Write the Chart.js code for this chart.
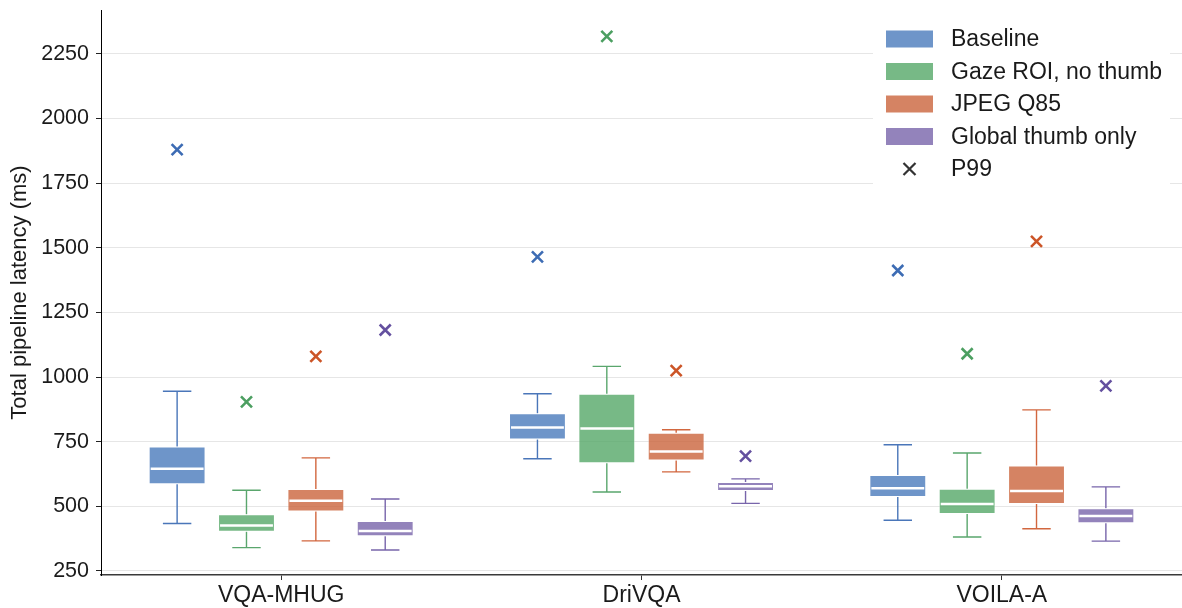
<!DOCTYPE html>
<html>
<head>
<meta charset="utf-8">
<script src="https://cdn.jsdelivr.net/npm/chart.js@4.4.1/dist/chart.umd.min.js"></script>
<style>
html, body { margin: 0; padding: 0; background: #fff; }
</style>
</head>
<body>
<canvas id="latency" width="1182" height="608"></canvas>
<script>
var categories = ['VQA-MHUG', 'DriVQA', 'VOILA-A'];
var seriesNames = ['Baseline', 'Gaze ROI, no thumb', 'JPEG Q85', 'Global thumb only'];

// one row per series, one value per dataset (VQA-MHUG, DriVQA, VOILA-A)
var whiskerLow  = [[433, 684, 446], [340, 555, 381], [366, 633, 413], [331, 511, 365]];
var q1          = [[585, 758, 536], [401, 666, 470], [480, 677, 509], [384, 559, 434]];
var median      = [[645, 805, 570], [426, 801, 509], [521, 712, 559], [404, 577, 462]];
var q3          = [[731, 860, 621], [469, 935, 568], [567, 784, 658], [443, 594, 492]];
var whiskerHigh = [[945, 935, 738], [562, 1041, 706], [687, 796, 873], [528, 606, 575]];
var p99         = [[1880, 1465, 1412], [904, 2318, 1090], [1080, 1025, 1525], [1182, 694, 966]];

var yTicks = [250, 500, 750, 1000, 1250, 1500, 1750, 2000, 2250];

var boxFill = ['rgba(74,122,187,0.8)', 'rgba(85,168,104,0.8)', 'rgba(202,100,60,0.8)', 'rgba(120,100,170,0.8)'];
var lineColor = ['#4a76b9', '#5aa66d', '#d2673f', '#7865ab'];
var markColor = ['#3d6cb4', '#4c9f61', '#cc5527', '#64509f'];
var fontFamily = '"Liberation Sans", Arial, sans-serif';

var datasets = seriesNames.map(function (name, i) {
    return {
        label: name,
        data: q1[i].map(function (v, j) { return [v, q3[i][j]]; }),
        backgroundColor: boxFill[i],
        borderColor: 'rgba(255,255,255,0.4)',
        borderWidth: 1,
        borderSkipped: false,
        categoryPercentage: 0.77,
        barPercentage: 0.82
    };
});

function cross(ctx, x, y, r) {
    ctx.beginPath();
    ctx.moveTo(x - r, y - r); ctx.lineTo(x + r, y + r);
    ctx.moveTo(x - r, y + r); ctx.lineTo(x + r, y - r);
    ctx.stroke();
}

var boxExtras = {
    id: 'boxExtras',
    beforeDatasetsDraw: function (chart) {
        var ctx = chart.ctx, y = chart.scales.y;
        chart.data.datasets.forEach(function (ds, i) {
            chart.getDatasetMeta(i).data.forEach(function (bar, j) {
                var p = bar.getProps(['x', 'width'], true);
                var cap = p.width / 4;
                var yLo = y.getPixelForValue(whiskerLow[i][j]);
                var yHi = y.getPixelForValue(whiskerHigh[i][j]);
                ctx.save();
                ctx.strokeStyle = lineColor[i];
                ctx.lineWidth = 1.4;
                ctx.beginPath();
                ctx.moveTo(p.x, yHi); ctx.lineTo(p.x, y.getPixelForValue(q3[i][j]));
                ctx.moveTo(p.x, y.getPixelForValue(q1[i][j])); ctx.lineTo(p.x, yLo);
                ctx.moveTo(p.x - cap, yHi); ctx.lineTo(p.x + cap, yHi);
                ctx.moveTo(p.x - cap, yLo); ctx.lineTo(p.x + cap, yLo);
                ctx.stroke();
                ctx.restore();
            });
        });
    },
    afterDatasetsDraw: function (chart) {
        var ctx = chart.ctx, y = chart.scales.y;
        chart.data.datasets.forEach(function (ds, i) {
            chart.getDatasetMeta(i).data.forEach(function (bar, j) {
                var p = bar.getProps(['x', 'width'], true);
                var ym = y.getPixelForValue(median[i][j]);
                ctx.save();
                ctx.strokeStyle = '#ffffff';
                ctx.lineWidth = 2.5;
                ctx.beginPath();
                ctx.moveTo(p.x - p.width / 2 + 2, ym);
                ctx.lineTo(p.x + p.width / 2 - 2, ym);
                ctx.stroke();
                ctx.strokeStyle = markColor[i];
                ctx.lineWidth = 2.6;
                cross(ctx, p.x, y.getPixelForValue(p99[i][j]), 5.5);
                ctx.restore();
            });
        });
    },
    afterDraw: function (chart) {
        var ctx = chart.ctx;
        var left = 873, top = 20, rowH = 32.5;
        ctx.save();
        ctx.fillStyle = '#ffffff';
        ctx.fillRect(left, top, 297, 168);
        ctx.font = '23px ' + fontFamily;
        ctx.textBaseline = 'middle';
        var labels = seriesNames.concat(['P99']);
        labels.forEach(function (name, k) {
            var cy = top + 19 + k * rowH;
            if (k < seriesNames.length) {
                ctx.fillStyle = boxFill[k];
                ctx.fillRect(886, cy - 8.5, 47, 17);
            } else {
                ctx.strokeStyle = '#333';
                ctx.lineWidth = 2.2;
                cross(ctx, 909.5, cy, 6);
            }
            ctx.fillStyle = '#1a1a1a';
            ctx.fillText(name, 951, cy + 1);
        });
        ctx.restore();
    }
};

new Chart(document.getElementById('latency'), {
    type: 'bar',
    data: { labels: categories, datasets: datasets },
    options: {
        responsive: false,
        animation: false,
        layout: { padding: { top: 10, right: 0, left: 0, bottom: 0 } },
        plugins: { legend: { display: false }, tooltip: { enabled: false } },
        scales: {
            x: {
                offset: true,
                grid: { drawOnChartArea: false, drawTicks: true, tickLength: 5, tickColor: '#333', offset: false },
                border: { color: '#3a3a3a', width: 1.5 },
                ticks: { font: { size: 23, family: fontFamily }, color: '#1a1a1a', padding: 2 },
                afterFit: function (s) { s.height = 33; s.paddingLeft = 0; s.paddingRight = 0; }
            },
            y: {
                min: 234,
                max: 2420,
                grid: { color: '#e6e6e6', lineWidth: 1, tickLength: 5, tickColor: '#222' },
                border: { color: '#000', width: 1 },
                ticks: {
                    font: { size: 21.5, family: fontFamily },
                    color: '#1a1a1a',
                    padding: 7,
                    callback: function (v) { return String(v); }
                },
                title: {
                    display: true,
                    text: 'Total pipeline latency (ms)',
                    font: { size: 22, family: fontFamily },
                    color: '#1a1a1a',
                    padding: { top: 7, bottom: 0 }
                },
                afterBuildTicks: function (s) { s.ticks = yTicks.map(function (v) { return { value: v }; }); },
                afterFit: function (s) { s.width = 101; s.paddingTop = 0; s.paddingBottom = 0; }
            }
        }
    },
    plugins: [boxExtras]
});
</script>
</body>
</html>
